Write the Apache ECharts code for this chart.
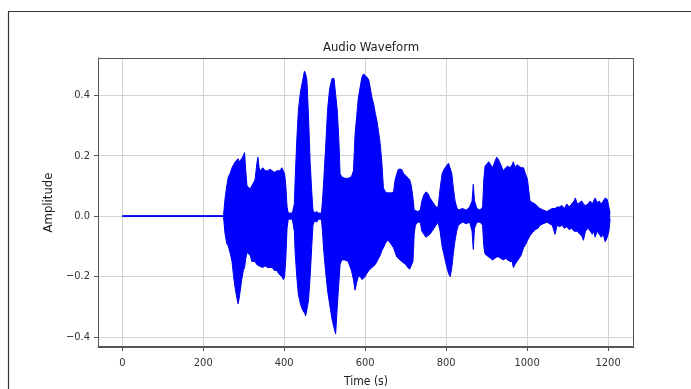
<!DOCTYPE html>
<html>
<head>
<meta charset="utf-8">
<script src="https://cdn.jsdelivr.net/npm/echarts@6/dist/echarts.min.js"></script>
<style>
html,body{margin:0;padding:0;background:#fff;}
#chart{width:691px;height:389px;}
</style>
</head>
<body>
<div id="chart"></div>
<script>
// Envelope of the waveform (seconds, upper amplitude, lower amplitude)
const envTime = [0,250,254,258,262,266,271,275,279,283,286,289,291,295,299,302,305,308,312,316,320,324,328,332,335,338,341,347,353,359,365,370,376,382,386,390,394,398,401,404,407,410,420,425,427,431,435,440,445,450,453,456,460,464,468,471,475,480,485,492,495,497,502,507,512,518,523,527,531,535,538,542,550,558,566,571,575,579,583,588,592,596,600,604,609,613,617,621,625,629,633,637,641,645,650,655,660,665,670,674,678,682,686,690,695,700,705,710,714,718,721,724,730,736,740,745,750,755,760,765,770,775,780,785,790,795,800,806,810,814,818,822,826,830,840,850,858,864,867,870,876,884,890,893,896,900,905,910,915,920,925,930,935,941,947,952,958,963,966,970,975,980,985,991,996,1001,1007,1013,1020,1027,1032,1040,1049,1055,1062,1069,1074,1080,1086,1092,1098,1104,1110,1116,1119,1124,1130,1135,1139,1144,1150,1156,1161,1165,1168,1173,1178,1183,1188,1193,1198,1202,1205];
const envUpper = [0.0015,0.0015,0.06,0.10,0.13,0.14,0.16,0.17,0.18,0.18,0.19,0.18,0.18,0.19,0.20,0.21,0.15,0.10,0.10,0.09,0.10,0.10,0.12,0.17,0.195,0.16,0.15,0.16,0.15,0.15,0.155,0.15,0.145,0.15,0.155,0.15,0.16,0.16,0.14,0.10,0.03,0.01,0.01,0.04,0.12,0.25,0.35,0.41,0.445,0.48,0.47,0.45,0.33,0.18,0.08,0.02,0.01,0.015,0.01,0.01,0.06,0.105,0.22,0.35,0.42,0.455,0.455,0.45,0.35,0.25,0.14,0.13,0.125,0.125,0.13,0.15,0.27,0.33,0.39,0.43,0.46,0.47,0.465,0.46,0.45,0.42,0.39,0.37,0.34,0.315,0.28,0.24,0.18,0.093,0.08,0.077,0.077,0.077,0.08,0.12,0.14,0.155,0.16,0.155,0.14,0.135,0.127,0.12,0.10,0.06,0.02,0.02,0.015,0.02,0.05,0.07,0.08,0.075,0.06,0.05,0.04,0.03,0.03,0.09,0.14,0.155,0.165,0.175,0.18,0.14,0.09,0.05,0.03,0.02,0.025,0.02,0.03,0.05,0.105,0.05,0.025,0.02,0.03,0.12,0.165,0.17,0.18,0.17,0.16,0.18,0.195,0.185,0.17,0.15,0.16,0.165,0.16,0.17,0.18,0.16,0.17,0.165,0.16,0.16,0.14,0.12,0.05,0.045,0.04,0.03,0.025,0.02,0.015,0.02,0.025,0.025,0.03,0.03,0.035,0.025,0.04,0.03,0.04,0.05,0.06,0.04,0.045,0.05,0.04,0.035,0.04,0.05,0.04,0.045,0.06,0.045,0.05,0.04,0.05,0.06,0.055,0.05,0.01];
const envLower = [-0.0015,-0.0015,-0.06,-0.09,-0.10,-0.12,-0.15,-0.20,-0.24,-0.27,-0.29,-0.27,-0.25,-0.21,-0.18,-0.17,-0.14,-0.12,-0.115,-0.13,-0.15,-0.15,-0.15,-0.16,-0.165,-0.165,-0.165,-0.17,-0.165,-0.17,-0.17,-0.17,-0.18,-0.18,-0.19,-0.19,-0.20,-0.21,-0.20,-0.14,-0.04,-0.01,-0.01,-0.05,-0.12,-0.20,-0.26,-0.29,-0.31,-0.32,-0.33,-0.33,-0.28,-0.20,-0.10,-0.03,-0.015,-0.02,-0.01,-0.01,-0.06,-0.105,-0.18,-0.245,-0.29,-0.34,-0.37,-0.39,-0.30,-0.22,-0.16,-0.145,-0.145,-0.15,-0.18,-0.21,-0.245,-0.22,-0.20,-0.20,-0.21,-0.21,-0.20,-0.19,-0.18,-0.175,-0.17,-0.165,-0.16,-0.15,-0.14,-0.13,-0.115,-0.105,-0.09,-0.08,-0.085,-0.095,-0.105,-0.12,-0.135,-0.14,-0.145,-0.15,-0.155,-0.16,-0.17,-0.175,-0.18,-0.15,-0.06,-0.03,-0.02,-0.02,-0.05,-0.06,-0.07,-0.065,-0.06,-0.05,-0.04,-0.03,-0.02,-0.05,-0.10,-0.13,-0.16,-0.19,-0.20,-0.17,-0.12,-0.08,-0.05,-0.03,-0.02,-0.025,-0.02,-0.05,-0.11,-0.04,-0.02,-0.02,-0.03,-0.10,-0.125,-0.13,-0.135,-0.14,-0.145,-0.14,-0.135,-0.135,-0.14,-0.145,-0.14,-0.145,-0.15,-0.15,-0.17,-0.16,-0.15,-0.14,-0.13,-0.105,-0.095,-0.08,-0.065,-0.055,-0.045,-0.04,-0.03,-0.025,-0.02,-0.025,-0.03,-0.06,-0.03,-0.035,-0.03,-0.04,-0.035,-0.045,-0.04,-0.05,-0.045,-0.05,-0.06,-0.065,-0.08,-0.05,-0.04,-0.05,-0.06,-0.05,-0.07,-0.05,-0.06,-0.07,-0.06,-0.085,-0.07,-0.05,-0.01];
const xTicks = [0,200,400,600,800,1000,1200];
const yTicks = [-0.4,-0.2,0.0,0.2,0.4];

const upperData = envTime.map((t,i)=>[t, envUpper[i]]);
const lowerData = envTime.map((t,i)=>[t, envLower[i]]);

const chart = echarts.init(document.getElementById('chart'), null, {renderer:'canvas'});
const font = 'DejaVu Sans Condensed, Liberation Sans Narrow, DejaVu Sans, sans-serif';
chart.setOption({
  animation:false,
  backgroundColor:'#ffffff',
  title:{text:'Audio Waveform', left:366, top:36, textAlign:'center',
    textStyle:{fontSize:13, fontWeight:'normal', color:'#222', fontFamily:font}},
  grid:{left:98, right:57, top:58, bottom:42, outerBoundsMode:'none', containLabel:false},
  xAxis:{type:'value', min:-60, max:1264, name:'Time (s)', nameLocation:'middle', nameGap:29,
    nameTextStyle:{fontSize:12, color:'#222', fontFamily:font},
    axisLine:{show:true, onZero:false, lineStyle:{color:'#555', width:1}},
    axisTick:{show:true, length:4, customValues:xTicks, lineStyle:{color:'#555'}},
    axisLabel:{customValues:xTicks, fontSize:11, color:'#333', margin:11, fontFamily:font,
      formatter:v=>String(v)},
    splitLine:{show:true, lineStyle:{color:'#d3d3d3', width:1}}},
  yAxis:{type:'value', min:-0.433, max:0.523, name:'Amplitude', nameLocation:'middle', nameGap:33,
    nameTextStyle:{fontSize:13, color:'#222', fontFamily:font},
    axisLine:{show:true, onZero:false, lineStyle:{color:'#555', width:1}},
    axisTick:{show:true, length:4, customValues:yTicks, lineStyle:{color:'#555'}},
    axisLabel:{customValues:yTicks, fontSize:11, color:'#333', margin:8, fontFamily:font,
      formatter:v=>(v<0?'\u2212':'')+Math.abs(v).toFixed(1)},
    splitLine:{show:true, lineStyle:{color:'#d3d3d3', width:1}}},
  graphic:[
    {type:'rect', shape:{x:8.5, y:11.5, width:700, height:400}, style:{fill:'none', stroke:'#333', lineWidth:1.2}, silent:true},
    {type:'rect', shape:{x:98.5, y:58.5, width:535, height:288}, style:{fill:'none', stroke:'#555', lineWidth:1}, silent:true, z:100}
  ],
  series:[
    {type:'line', data:upperData, showSymbol:false, lineStyle:{color:'#0000ee', width:1},
      areaStyle:{color:'#0000ff', opacity:1, origin:0}, z:5},
    {type:'line', data:lowerData, showSymbol:false, lineStyle:{color:'#0000ee', width:1},
      areaStyle:{color:'#0000ff', opacity:1, origin:0}, z:5}
  ]
});
</script>
</body>
</html>
